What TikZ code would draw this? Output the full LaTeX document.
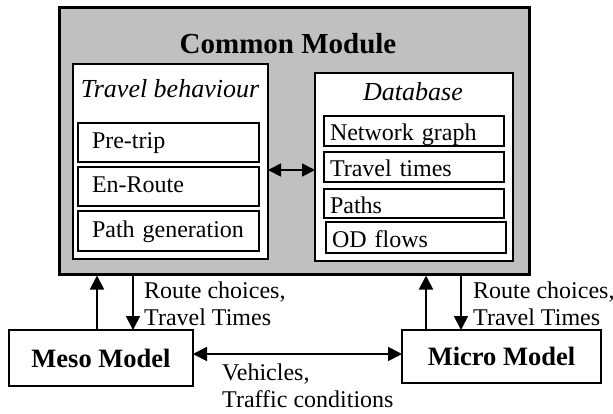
\documentclass[tikz,border=0pt]{standalone}
\usepackage{fontspec}
\setmainfont{Liberation Serif}
\usetikzlibrary{arrows.meta}
\definecolor{modgray}{HTML}{C0C0C0}
\begin{document}
\begin{tikzpicture}[x=1pt,y=-1pt,
  box/.style={draw, line width=1.6pt, fill=white, inner sep=0pt, outer sep=0pt, anchor=north west},
  subL/.style={box, align=left, text width=153pt, inner xsep=14pt, minimum width=181pt,
    text height=17pt, text depth=5pt, font=\fontsize{24}{27}\selectfont},
  subR/.style={box, align=left, text width=168pt, inner xsep=6pt, minimum width=180pt,
    text height=21pt, text depth=2pt, font=\fontsize{24}{27}\selectfont},
  model/.style={box, font=\fontsize{26.5}{30}\selectfont\bfseries},
  title/.style={anchor=base, inner sep=0pt, font=\fontsize{26}{30}\selectfont\itshape},
  lbl/.style={anchor=base west, inner sep=0pt, align=left, font=\fontsize{24}{27}\selectfont},
  arr/.style={line width=1.8pt, -{Triangle[length=14pt,width=14pt]}},
  darr/.style={line width=1.8pt, {Triangle[length=14pt,width=14pt]}-{Triangle[length=14pt,width=14pt]}},
]
\useasboundingbox (0,0) rectangle (613,413);

% common module
\node[draw, line width=2.5pt, fill=modgray, inner sep=0pt, anchor=north west,
  minimum width=470pt, minimum height=267pt] (common) at (58,6) {};
\node[anchor=base, inner sep=0pt, font=\fontsize{29}{32}\selectfont\bfseries] (ctitle) at (288,53) {Common Module};

% travel behaviour
\node[box, minimum width=195pt, minimum height=195pt] (travel) at (73,64) {};
\node[title] (ttitle) at (170,97) {Travel behaviour};
\node[subL, minimum height=39pt] (pretrip) at (78,123) {Pre-trip};
\node[subL, minimum height=39pt] (enroute) at (78,167) {En-Route};
\node[subL, minimum height=40pt] (pathgen) at (78,211) {Path generation};

% database
\node[box, minimum width=198pt, minimum height=188pt] (db) at (315,73) {};
\node[title] (dtitle) at (413,100) {Database};
\node[subR, minimum height=30pt] (netgraph) at (324,116) {Network graph};
\node[subR, minimum height=30pt] (ttimes) at (324,152) {Travel times};
\node[subR, minimum height=29pt] (paths) at (324,189) {Paths};
\node[subR, minimum height=31pt] (odflows) at (326,222) {OD flows};

% models
\node[model, minimum width=184pt, minimum height=56pt] (meso) at (9,330) {Meso Model};
\node[model, minimum width=199pt, minimum height=53pt] (micro) at (402,330) {Micro Model};

% connectors
\coordinate (mid) at (0,170);
\draw[line width=1.8pt, {Triangle[length=13pt,width=13pt]}-{Triangle[length=13pt,width=13pt]}]
  (mid -| travel.east) -- (mid -| db.west);

\coordinate (upL) at (97,0);
\coordinate (dnL) at (133,0);
\coordinate (upR) at (426,0);
\coordinate (dnR) at (461,0);
\draw[arr] (upL |- meso.north) -- (upL |- common.south);
\draw[arr] (dnL |- common.south) -- (dnL |- meso.north);
\draw[arr] (upR |- micro.north) -- (upR |- common.south);
\draw[arr] (dnR |- common.south) -- (dnR |- micro.north);

\coordinate (hz) at (0,354);
\draw[darr] (hz -| meso.east) -- (hz -| micro.west);

% labels (base anchor = baseline of the last line)
\node[lbl] (lblL) at (144,325) {Route choices,\\Travel Times};
\node[lbl] (lblR) at (473,325) {Route choices,\\Travel Times};
\node[lbl] (lblV) at (222,407) {Vehicles,\\Traffic conditions};
\end{tikzpicture}
\end{document}
